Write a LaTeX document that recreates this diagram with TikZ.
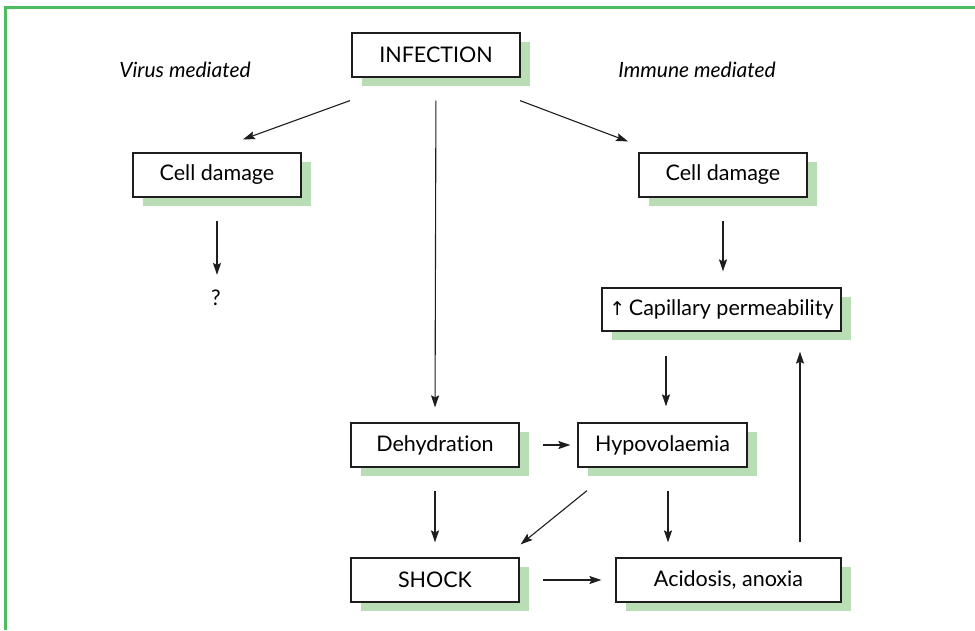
\documentclass[tikz,border=0pt]{standalone}
\usepackage{fontspec}
\setmainfont{Lato}[Ligatures=NoCommon]
\newfontfamily\symfont{DejaVu Sans}
\usetikzlibrary{arrows.meta,shadows,calc}
\definecolor{shadowgreen}{HTML}{B9DDB5}
\definecolor{framegreen}{HTML}{4DBB5F}
\definecolor{inkc}{HTML}{1E1E1E}
\begin{document}
\begin{tikzpicture}[x=1pt,y=-1pt,
  box/.style={draw=inkc,line width=1.2pt,fill=white,minimum height=44pt,inner sep=0pt,
    font=\fontsize{21.5}{24}\selectfont,
    general shadow={fill=shadowgreen,shadow xshift=10pt,shadow yshift=-9pt}},
  lab/.style={font=\fontsize{21}{24}\selectfont\itshape,inner sep=0pt},
  arr/.style={draw=inkc,line width=1.1pt,-{Stealth[length=12pt,width=8pt,inset=2pt]}}]
\useasboundingbox (0,0) rectangle (975,630);
\draw[framegreen,line width=3pt] (5.5,630) -- (5.5,7) -- (975,7);

\node[box,minimum width=168pt] (inf) at (436,55) {INFECTION};
\node[lab] (vm) at (185,70) {Virus mediated};
\node[lab] (im) at (697,70) {Immune mediated};
\node[box,minimum width=168pt] (cdl) at (217,175) {Cell damage};
\node[box,minimum width=168pt] (cdr) at (723,175) {Cell damage};
\node[inner sep=0pt,font=\fontsize{21.5}{24}\selectfont] (q) at (216,298) {?};
\node[box,minimum width=239pt,minimum height=43pt] (cap) at (721.5,309.5) {{\symfont\fontsize{19}{22}\selectfont ↑}\,Capillary permeability};
\node[box,minimum width=168pt] (dehy) at (435,445) {Dehydration};
\node[box,minimum width=169pt] (hypo) at (662.5,445) {Hypovolaemia};
\node[box,minimum width=168pt] (shock) at (435,580) {SHOCK};
\node[box,minimum width=225pt] (acid) at (728.5,580) {Acidosis, anoxia};

\draw[arr] ($(inf.south)+(-86,23)$) -- ($(cdl.north)+(26,-13)$);
\draw[arr] ($(inf.south)+(84,23)$) -- ($(cdr.north)+(-95,-11)$);
\draw[arr,shorten <=23pt,shorten >=15pt] (inf.south) -- (dehy.north);
\draw[arr,shorten <=23pt,shorten >=15pt] (cdl.south) -- (cdl.south |- q.north);
\draw[arr,shorten <=23pt,shorten >=16pt] (cdr.south) -- (cdr.south |- cap.north);
\draw[arr,shorten <=24pt,shorten >=16pt] ([xshift=3.5pt]hypo.north |- cap.south) -- ([xshift=3.5pt]hypo.north);
\draw[arr,shorten <=23pt,shorten >=7pt] (dehy.east) -- (hypo.west);
\draw[arr,shorten <=23pt,shorten >=15pt] (dehy.south) -- (shock.north);
\draw[arr] ($(hypo.south)+(-75.5,23)$) -- ($(shock.north east)+(1,-13)$);
\draw[arr,shorten <=23pt,shorten >=15pt] ([xshift=5.5pt]hypo.south) -- ([xshift=5.5pt]hypo.south |- acid.north);
\draw[arr,shorten <=23pt,shorten >=14pt] (shock.east) -- (acid.west);
\draw[arr,shorten <=15pt,shorten >=20pt] ([xshift=71.5pt]acid.north) -- ([xshift=71.5pt]acid.north |- cap.south);
\end{tikzpicture}
\end{document}
